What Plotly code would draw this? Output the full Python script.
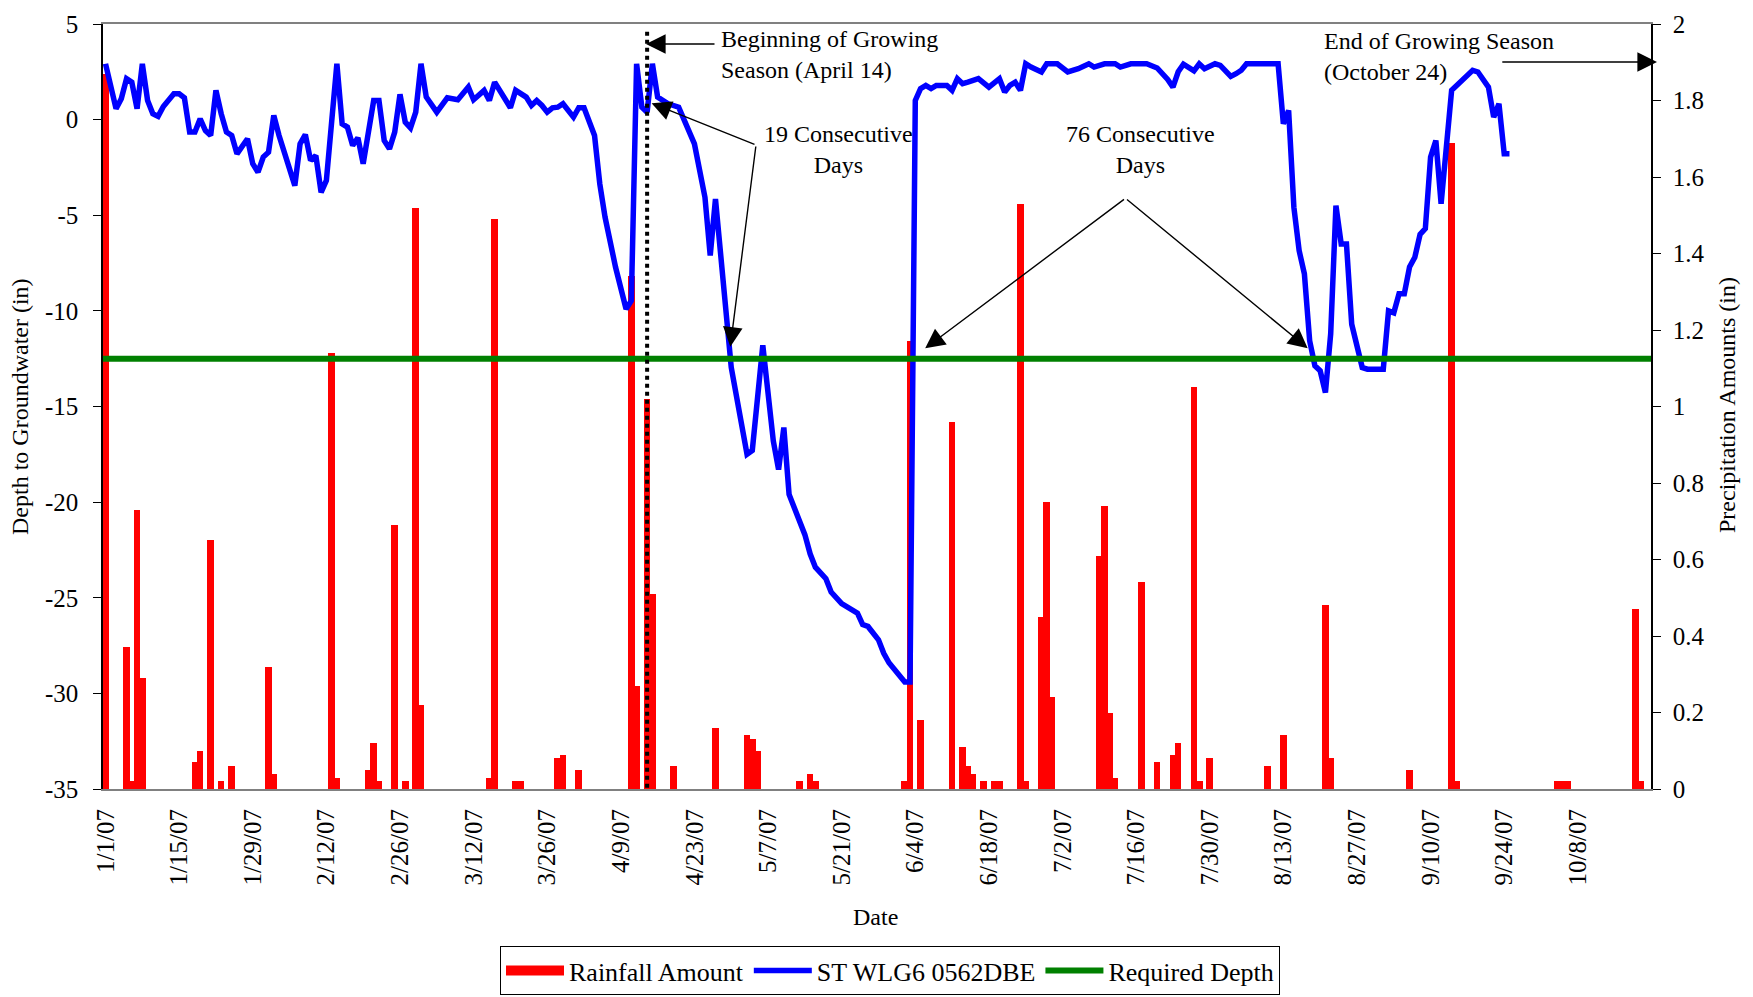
import plotly.graph_objects as go
import pandas as pd

START = pd.Timestamp("2007-01-01")

# Water level ST WLG6 0562DBE: day offset from 1/1/07 and depth (in)
wl_day = [0, 2, 3, 4, 5, 6, 7, 8, 9, 10, 11, 13, 14, 15, 16, 17, 18, 19, 20, 21,
          22, 23, 24, 25, 27, 28, 29, 30, 31, 32, 33, 34, 36, 37, 38, 39, 40, 41, 42, 44,
          45, 46, 47, 48, 49, 51, 52, 53, 54, 55, 56, 57, 58, 59, 60, 61, 63, 65, 67, 69,
          70, 72, 73, 74, 76, 77, 78, 80, 81, 82, 83, 84, 85, 86, 87, 88, 89, 90, 91, 93,
          94, 95, 97, 99, 100, 101, 102, 103, 104, 105, 107, 109, 110, 112, 114, 115, 116, 118, 119, 122,
          123, 125, 127, 128, 129, 130, 131, 132, 133, 134, 135, 137, 138, 140, 143, 144, 145, 147, 148, 149,
          150, 151, 152, 153, 154, 155, 156, 157, 158, 160, 161, 162, 163, 164, 166, 167, 168, 170, 171, 172,
          173, 174, 175, 176, 178, 179, 181, 183, 185, 187, 188, 190, 192, 193, 195, 198, 200, 202, 203, 204,
          205, 207, 208, 209, 211, 212, 214, 215, 216, 217, 223, 224, 225, 226, 227, 228, 229, 230, 231, 232,
          233, 234, 235, 236, 237, 239, 240, 243, 244, 245, 246, 247, 248, 249, 250, 251, 252, 253, 254, 256,
          258, 260, 261, 263, 264, 265, 266, 267]
wl_depth = [2.92, 0.57, 1.09, 2.14, 1.96, 0.57, 2.92, 1.0, 0.31, 0.17, 0.69, 1.35, 1.35, 1.14, -0.65, -0.65, 0.04, -0.57, -0.83, 1.53,
            0.31, -0.65, -0.83, -1.79, -1.0, -2.31, -2.75, -1.96, -1.70, 0.22, -0.83, -1.70, -3.45, -1.27, -0.78, -2.14, -1.88, -3.8, -3.18, 2.92,
            -0.22, -0.39, -1.35, -0.95, -2.31, 1.0, 1.0, -1.09, -1.53, -0.65, 1.32, -0.13, -0.43, 0.39, 2.92, 1.18, 0.39, 1.14, 1.04, 1.70,
            1.04, 1.53, 1.0, 1.96, 1.0, 0.62, 1.53, 1.18, 0.74, 1.0, 0.74, 0.39, 0.62, 0.65, 0.83, 0.48, 0.13, 0.62, 0.62, -0.83,
            -3.36, -5.1, -7.72, -9.9, -9.47, 2.92, 0.65, 0.39, 2.92, 1.18, 0.83, 0.65, -0.04, -1.27, -4.06, -7.1, -4.15, -10.5, -12.96, -17.5,
            -17.3, -11.8, -16.8, -18.3, -16.1, -19.6, -20.3, -20.9, -21.7, -22.7, -23.4, -24.0, -24.7, -25.3, -25.8, -26.4, -26.5, -27.2, -27.9, -28.4,
            -28.7, -29.1, -29.4, -29.4, 1.0, 1.62, 1.79, 1.62, 1.79, 1.79, 1.53, 2.14, 1.88, 1.96, 2.14, 1.92, 1.70, 2.14, 1.44, 1.79,
            1.96, 1.53, 2.92, 2.75, 2.49, 2.92, 2.92, 2.49, 2.66, 2.92, 2.75, 2.92, 2.92, 2.75, 2.92, 2.92, 2.7, 2.1, 1.70, 2.5,
            2.9, 2.55, 2.92, 2.66, 2.92, 2.84, 2.26, 2.40, 2.58, 2.92, 2.92, -0.22, 0.48, -4.58, -6.85, -8.07, -11.56, -12.87, -13.13, -14.27,
            -11.2, -4.5, -6.5, -6.5, -10.7, -12.96, -13.05, -13.05, -10.0, -10.1, -9.1, -9.1, -7.7, -7.2, -6.0, -5.7, -1.96, -1.09, -4.4, 1.53,
            2.05, 2.58, 2.49, 1.70, 0.13, 0.83, -1.79, -1.79]

# Daily rainfall: day offset from 1/1/07 and amount (in)
rain_day = [0, 4, 5, 6, 7, 17, 18, 20, 22, 24, 31, 32, 43, 44, 50, 51, 52, 55, 57, 59,
            60, 73, 74, 78, 79, 86, 87, 90, 100, 101, 103, 104, 108, 116, 122, 123, 124, 132, 134, 135,
            152, 153, 155, 161, 163, 164, 165, 167, 169, 170, 174, 175, 178, 179, 180, 189, 190, 191, 192, 197,
            200, 203, 204, 207, 208, 210, 221, 224, 232, 233, 248, 256, 257, 276, 277, 278, 291, 292]
rain_in = [1.87, 0.37, 0.02, 0.73, 0.29, 0.07, 0.10, 0.65, 0.02, 0.06, 0.32, 0.04, 1.14, 0.03, 0.05, 0.12, 0.02, 0.69, 0.02, 1.52,
           0.22, 0.03, 1.49, 0.02, 0.02, 0.08, 0.09, 0.05, 1.34, 0.27, 1.02, 0.51, 0.06, 0.16, 0.14, 0.13, 0.10, 0.02, 0.04, 0.02,
           0.02, 1.17, 0.18, 0.96, 0.11, 0.06, 0.04, 0.02, 0.02, 0.02, 1.53, 0.02, 0.45, 0.75, 0.24, 0.61, 0.74, 0.20, 0.03, 0.54,
           0.07, 0.09, 0.12, 1.05, 0.02, 0.08, 0.06, 0.14, 0.48, 0.08, 0.05, 1.69, 0.02, 0.02, 0.02, 0.02, 0.47, 0.02]

required_depth = -12.5
season_start = "2007-04-14"

x_min = "2006-12-31 12:30"
x_max = "2007-10-21 22:00"

left_ticks = [-35, -30, -25, -20, -15, -10, -5, 0, 5]
right_ticks = [0, 0.2, 0.4, 0.6, 0.8, 1, 1.2, 1.4, 1.6, 1.8, 2]

FONT = "Liberation Serif"

wl_dates = [START + pd.Timedelta(days=d) for d in wl_day]
rain_dates = [START + pd.Timedelta(days=d) for d in rain_day]

fig = go.Figure()
# legend-only entry giving the wide red swatch
fig.add_trace(go.Scatter(x=[None], y=[None], name="Rainfall Amount", mode="lines",
                         line=dict(color="#FF0000", width=23), legendgroup="rain", yaxis="y"))
fig.add_trace(go.Bar(x=rain_dates, y=rain_in, name="Rainfall Amount", showlegend=False, legendgroup="rain",
                     marker=dict(color="#FF0000", line=dict(width=0)),
                     width=1.25 * 86400000, yaxis="y", xaxis="x"))
fig.add_trace(go.Scatter(x=wl_dates, y=wl_depth, name="ST WLG6 0562DBE", mode="lines",
                         line=dict(color="#0000FF", width=5.5), yaxis="y2"))
fig.add_trace(go.Scatter(x=[x_min, x_max], y=[required_depth, required_depth], name="Required Depth",
                         mode="lines", line=dict(color="#008000", width=6), yaxis="y2"))

OFF = 8  # page body margin
W, H = 1753, 997
# plot area in page pixels
PL, PR, PT, PB = 103, 1651, 24, 789
L, T = PL - OFF, PT - OFF
R, B = W - (PR - OFF), H - (PB - OFF)
PW, PH = PR - PL, PB - PT


def px(x):
    return (x - PL) / PW


def py(y):
    return (PB - y) / PH


annotations = []
txt = dict(family=FONT, size=24, color="black")
annotations.append(dict(text="Beginning of Growing<br>Season (April 14)", xref="paper", yref="paper",
                        x=px(719), y=py(55), xanchor="left", yanchor="middle", align="left",
                        showarrow=False, font=txt))
annotations.append(dict(text="19 Consecutive<br>Days", xref="paper", yref="paper",
                        x=px(838), y=py(150), xanchor="center", yanchor="middle", align="center",
                        showarrow=False, font=txt))
annotations.append(dict(text="76 Consecutive<br>Days", xref="paper", yref="paper",
                        x=px(1140), y=py(150), xanchor="center", yanchor="middle", align="center",
                        showarrow=False, font=txt))
annotations.append(dict(text="End of Growing Season<br>(October 24)", xref="paper", yref="paper",
                        x=px(1322), y=py(57), xanchor="left", yanchor="middle", align="left",
                        showarrow=False, font=txt))

arrows = [((646, 44), (716, 44)),
          ((651.6, 103.3), (756, 145)),
          ((730.3, 346.7), (756, 145)),
          ((925.2, 348.3), (1125.5, 198.3)),
          ((1307.7, 348.3), (1125.5, 198.3)),
          ((1657, 62), (1500.8, 62))]
for (hx, hy), (tx, ty) in arrows:
    annotations.append(dict(text="", xref="paper", yref="paper", x=px(hx), y=py(hy),
                            ax=tx - hx, ay=ty - hy, showarrow=True, arrowhead=2,
                            arrowsize=2.8, arrowwidth=1.4, arrowcolor="black", standoff=0))

annotations.append(dict(text="Date", xref="paper", yref="paper", x=px(875), y=py(917),
                        xanchor="center", yanchor="middle", showarrow=False, font=txt))
annotations.append(dict(text="Depth to Groundwater (in)", xref="paper", yref="paper", x=px(20), y=py(407),
                        xanchor="center", yanchor="middle", textangle=-90, showarrow=False, font=txt))
annotations.append(dict(text="Precipitation Amounts (in)", xref="paper", yref="paper", x=px(1727), y=py(405),
                        xanchor="center", yanchor="middle", textangle=-90, showarrow=False, font=txt))

tickfont = dict(family=FONT, size=25, color="black")
fig.update_layout(
    width=W, height=H,
    margin=dict(l=L, r=R, t=T, b=B, pad=0, autoexpand=False),
    paper_bgcolor="white", plot_bgcolor="white",
    font=dict(family=FONT, size=24, color="black"),
    bargap=0,
    xaxis=dict(type="date", range=[x_min, x_max], tick0="2007-01-01", dtick=14 * 86400000,
               tickformat="%-m/%-d/%y", tickangle=-90, ticks="", showgrid=False, zeroline=False,
               showline=True, linecolor="#808080", linewidth=2, mirror=True,
               ticklabelstandoff=8, tickfont=tickfont),
    yaxis=dict(side="right", range=[0, 2], tickvals=right_ticks, ticktext=[f"{v:g}" for v in right_ticks],
               ticks="outside", ticklen=8, tickcolor="black", showgrid=False, zeroline=False,
               showline=True, linecolor="black", linewidth=1.5, ticklabelstandoff=7,
               tickfont=tickfont),
    yaxis2=dict(side="left", overlaying="y", range=[-35, 5], tickvals=left_ticks,
                ticktext=[str(v) for v in left_ticks],
                ticks="outside", ticklen=8, tickcolor="black", showgrid=False, zeroline=False,
                showline=True, linecolor="black", linewidth=1.5, ticklabelstandoff=10,
                tickfont=tickfont),
    legend=dict(orientation="h", x=px(890), xanchor="center", y=py(946), yanchor="top",
                bordercolor="black", borderwidth=1, bgcolor="white", itemwidth=58,
                font=dict(family=FONT, size=26, color="black"), traceorder="normal"),
    shapes=[dict(type="line", xref="x", yref="y2", x0=season_start, x1=season_start, y0=4.6, y1=-35,
                 line=dict(color="black", width=4, dash="dot"), layer="above")],
    annotations=annotations,
    showlegend=True,
)

fig.write_html("out.html")
